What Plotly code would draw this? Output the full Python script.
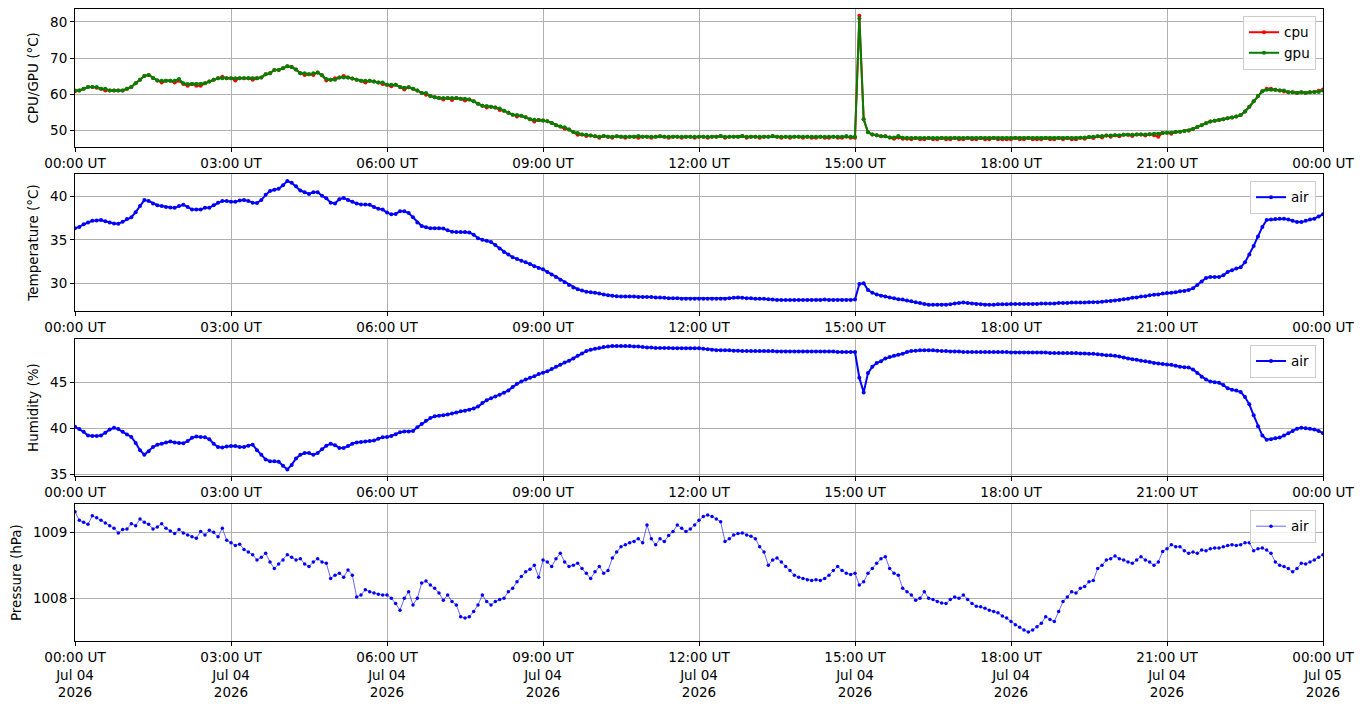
import pandas as pd
import plotly.graph_objects as go

# 5-minute samples, 2026-07-04 00:00 UT to 2026-07-05 00:00 UT (one row per hour)
times = pd.date_range("2026-07-04 00:00", periods=289, freq="5min")

cpu = [
    60.8, 61.0, 61.5, 62.0, 62.0, 61.8, 61.5, 61.0, 61.0, 61.0, 61.0, 61.0,
    61.5, 62.0, 63.0, 64.0, 65.0, 65.3, 64.5, 63.8, 63.2, 63.7, 63.7, 63.2,
    63.7, 62.8, 62.3, 62.8, 62.3, 62.3, 63.0, 63.5, 64.0, 64.4, 64.8, 64.4,
    64.4, 63.8, 64.4, 64.4, 64.4, 64.0, 64.4, 64.6, 65.5, 65.8, 66.7, 66.7,
    67.2, 67.7, 67.5, 66.8, 65.8, 65.3, 65.5, 65.3, 66.0, 65.2, 63.8, 64.0,
    64.4, 64.6, 65.0, 64.6, 64.3, 64.0, 63.7, 63.2, 63.7, 63.5, 63.2, 62.8,
    62.6, 62.2, 62.6, 62.0, 61.3, 61.9, 61.5, 61.0, 60.3, 59.8, 59.5, 59.1,
    58.9, 58.5, 58.9, 58.4, 58.9, 58.7, 58.2, 58.5, 58.0, 57.3, 56.8, 56.3,
    56.5, 56.3, 55.6, 55.4, 54.8, 54.3, 53.8, 54.0, 53.6, 53.0, 52.4, 52.8,
    52.7, 52.5, 52.0, 51.4, 51.0, 50.4, 50.2, 49.5, 48.7, 48.8, 48.4, 48.5,
    48.3, 47.9, 48.4, 48.2, 47.9, 48.3, 48.2, 47.9, 48.2, 48.2, 47.9, 48.2,
    48.2, 47.9, 48.2, 48.3, 48.2, 47.9, 48.2, 48.2, 47.9, 48.2, 48.2, 47.9,
    48.2, 48.2, 47.9, 48.2, 48.2, 48.4, 47.9, 48.2, 48.2, 48.2, 48.4, 47.9,
    48.2, 48.2, 47.9, 48.2, 48.2, 48.4, 48.2, 47.9, 48.2, 47.9, 48.2, 48.2,
    47.9, 48.2, 47.9, 47.9, 48.2, 47.9, 47.9, 48.2, 47.9, 47.9, 48.2, 47.9,
    47.9, 81.7, 53.0, 49.4, 48.8, 48.6, 48.3, 48.3, 48.0, 47.6, 48.0, 47.6,
    47.6, 47.5, 47.8, 47.5, 47.5, 47.8, 47.5, 47.5, 47.8, 47.5, 47.5, 47.8,
    47.5, 47.5, 47.8, 47.5, 47.5, 47.8, 47.5, 47.5, 47.8, 47.5, 47.5, 47.5,
    47.5, 47.8, 47.5, 47.5, 47.8, 47.5, 47.5, 47.5, 47.8, 47.5, 47.5, 47.8,
    47.5, 47.8, 47.5, 47.5, 47.9, 47.6, 48.1, 47.8, 48.3, 48.0, 48.5, 48.2,
    48.6, 48.3, 48.7, 48.7, 48.4, 48.8, 48.8, 48.5, 48.9, 48.6, 48.2, 49.2,
    49.3, 49.0, 49.5, 49.6, 49.8, 49.9, 50.3, 50.9, 51.4, 51.9, 52.4, 52.6,
    52.8, 53.0, 53.3, 53.5, 53.8, 54.2, 55.2, 56.5, 58.0, 59.5, 60.8, 61.5,
    61.5, 61.2, 61.0, 60.7, 60.5, 60.5, 60.3, 60.5, 60.3, 60.5, 60.6, 60.9,
    61.3,
]

gpu = [
    61.0, 61.0, 61.5, 62.0, 62.0, 62.0, 61.5, 61.5, 61.0, 61.0, 61.0, 61.0,
    61.5, 62.0, 63.0, 64.0, 65.0, 65.3, 64.5, 63.8, 63.7, 63.7, 63.7, 63.7,
    64.2, 63.0, 62.8, 62.8, 62.8, 62.8, 63.0, 63.5, 64.0, 64.4, 64.4, 64.4,
    64.4, 64.4, 64.4, 64.4, 64.4, 64.4, 64.4, 64.6, 65.5, 65.8, 66.7, 66.7,
    67.2, 67.7, 67.5, 66.8, 65.8, 65.8, 65.5, 65.8, 66.0, 65.2, 64.2, 64.0,
    64.0, 64.6, 64.6, 64.6, 64.3, 64.0, 63.7, 63.7, 63.7, 63.5, 63.2, 63.2,
    62.6, 62.6, 62.6, 62.0, 61.8, 61.9, 61.5, 61.0, 60.3, 60.3, 59.5, 59.1,
    58.9, 58.9, 58.9, 58.9, 58.9, 58.7, 58.7, 58.5, 58.0, 57.3, 56.8, 56.7,
    56.5, 56.3, 56.0, 55.4, 54.8, 54.3, 54.2, 54.0, 53.6, 53.0, 52.9, 52.8,
    52.7, 52.5, 52.0, 51.4, 51.0, 50.8, 50.2, 49.5, 49.2, 48.8, 48.7, 48.5,
    48.3, 48.2, 48.4, 48.2, 48.2, 48.3, 48.2, 48.2, 48.2, 48.2, 48.4, 48.2,
    48.2, 48.2, 48.2, 48.3, 48.2, 48.2, 48.2, 48.2, 48.2, 48.2, 48.2, 48.2,
    48.2, 48.2, 48.2, 48.2, 48.2, 48.4, 48.2, 48.2, 48.2, 48.2, 48.4, 48.2,
    48.2, 48.2, 48.2, 48.2, 48.2, 48.4, 48.2, 48.2, 48.2, 48.2, 48.2, 48.2,
    48.2, 48.2, 48.2, 48.2, 48.2, 48.2, 48.2, 48.2, 48.2, 48.2, 48.4, 48.2,
    48.2, 81.0, 53.0, 49.4, 48.8, 48.6, 48.3, 48.3, 48.0, 48.0, 48.4, 47.9,
    47.9, 47.8, 47.8, 47.8, 47.8, 47.8, 47.8, 47.8, 47.8, 47.8, 47.8, 47.8,
    47.8, 47.8, 47.8, 47.8, 47.8, 47.8, 47.8, 47.8, 47.8, 47.8, 47.8, 47.8,
    47.8, 47.8, 47.8, 47.8, 47.8, 47.8, 47.8, 47.8, 47.8, 47.8, 47.8, 47.8,
    47.8, 47.8, 47.8, 47.8, 47.9, 48.0, 48.1, 48.2, 48.3, 48.4, 48.5, 48.5,
    48.6, 48.6, 48.7, 48.7, 48.7, 48.8, 48.8, 48.8, 48.9, 49.0, 49.0, 49.2,
    49.3, 49.3, 49.5, 49.6, 49.8, 49.9, 50.3, 50.9, 51.4, 51.9, 52.4, 52.6,
    52.8, 53.0, 53.3, 53.5, 53.8, 54.2, 55.2, 56.5, 58.0, 59.5, 60.8, 61.2,
    61.2, 61.2, 61.0, 61.0, 60.5, 60.5, 60.3, 60.5, 60.3, 60.5, 60.6, 60.6,
    61.0,
]

air_temperature = [
    36.35, 36.5, 36.8, 37.0, 37.2, 37.25, 37.3, 37.15, 37.0, 36.9, 36.85, 37.1,
    37.4, 37.6, 38.2, 38.9, 39.6, 39.5, 39.2, 39.0, 38.9, 38.8, 38.75, 38.7,
    38.9, 39.05, 38.8, 38.5, 38.5, 38.5, 38.7, 38.7, 39.0, 39.3, 39.5, 39.5,
    39.4, 39.4, 39.55, 39.6, 39.5, 39.3, 39.25, 39.6, 40.2, 40.65, 40.8, 40.9,
    41.3, 41.8, 41.6, 41.2, 40.7, 40.5, 40.3, 40.5, 40.5, 40.1, 39.8, 39.3,
    39.2, 39.7, 39.85, 39.6, 39.4, 39.2, 39.1, 39.1, 39.05, 38.8, 38.6, 38.5,
    38.15, 37.95, 38.0, 38.3, 38.3, 38.1, 37.6, 37.0, 36.6, 36.45, 36.35, 36.35,
    36.35, 36.3, 36.1, 35.95, 35.9, 35.9, 35.9, 35.85, 35.6, 35.2, 35.0, 34.9,
    34.75, 34.4, 34.0, 33.6, 33.3, 33.0, 32.8, 32.6, 32.4, 32.2, 31.95, 31.75,
    31.6, 31.3, 31.0, 30.7, 30.4, 30.1, 29.8, 29.5, 29.3, 29.15, 29.0, 28.95,
    28.9, 28.8, 28.7, 28.6, 28.55, 28.5, 28.45, 28.45, 28.45, 28.45, 28.4, 28.4,
    28.4, 28.4, 28.35, 28.35, 28.3, 28.25, 28.25, 28.25, 28.2, 28.2, 28.2, 28.2,
    28.2, 28.2, 28.2, 28.2, 28.2, 28.2, 28.2, 28.25, 28.3, 28.35, 28.3, 28.25,
    28.25, 28.2, 28.2, 28.2, 28.15, 28.1, 28.05, 28.05, 28.05, 28.05, 28.05, 28.05,
    28.05, 28.05, 28.05, 28.05, 28.05, 28.1, 28.05, 28.05, 28.05, 28.05, 28.05, 28.05,
    28.1, 29.9, 30.0, 29.2, 28.9, 28.7, 28.55, 28.45, 28.35, 28.25, 28.15, 28.1,
    28.0, 27.9, 27.8, 27.7, 27.6, 27.5, 27.5, 27.5, 27.5, 27.5, 27.55, 27.65,
    27.7, 27.75, 27.7, 27.65, 27.6, 27.55, 27.5, 27.5, 27.5, 27.55, 27.55, 27.55,
    27.6, 27.6, 27.6, 27.6, 27.6, 27.6, 27.6, 27.65, 27.65, 27.65, 27.65, 27.7,
    27.7, 27.7, 27.75, 27.75, 27.75, 27.75, 27.8, 27.8, 27.8, 27.85, 27.9, 27.95,
    28.0, 28.05, 28.15, 28.2, 28.3, 28.35, 28.45, 28.5, 28.6, 28.65, 28.7, 28.8,
    28.85, 28.9, 28.95, 29.05, 29.1, 29.2, 29.4, 29.8, 30.2, 30.6, 30.7, 30.7,
    30.7, 30.9, 31.3, 31.5, 31.7, 31.85, 32.4, 33.3, 34.3, 35.4, 36.5, 37.3,
    37.35, 37.4, 37.45, 37.45, 37.35, 37.2, 37.05, 37.05, 37.2, 37.35, 37.45, 37.7,
    37.95,
]

air_humidity = [
    40.15, 39.9, 39.6, 39.2, 39.15, 39.15, 39.2, 39.5, 39.85, 40.05, 39.9, 39.6,
    39.3, 39.05, 38.4, 37.6, 37.1, 37.5, 37.95, 38.2, 38.3, 38.45, 38.55, 38.45,
    38.4, 38.35, 38.6, 38.95, 39.1, 39.05, 39.0, 38.8, 38.3, 37.95, 37.9, 38.0,
    38.05, 38.05, 37.95, 37.95, 38.1, 38.2, 37.6, 37.1, 36.6, 36.4, 36.4, 36.35,
    35.9, 35.5, 36.0, 36.7, 37.1, 37.3, 37.3, 37.1, 37.3, 37.7, 38.1, 38.3,
    38.15, 37.85, 37.85, 38.05, 38.3, 38.45, 38.5, 38.55, 38.6, 38.65, 38.85, 39.0,
    39.05, 39.15, 39.35, 39.55, 39.65, 39.65, 39.7, 40.1, 40.45, 40.8, 41.1, 41.3,
    41.35, 41.4, 41.5, 41.6, 41.7, 41.85, 41.9, 42.0, 42.15, 42.35, 42.75, 43.05,
    43.25, 43.45, 43.65, 43.85, 44.1, 44.5, 44.85, 45.1, 45.3, 45.5, 45.65, 45.9,
    46.05, 46.2, 46.45, 46.7, 46.9, 47.15, 47.35, 47.6, 47.9, 48.15, 48.4, 48.55,
    48.65, 48.75, 48.85, 48.9, 48.95, 48.95, 48.95, 48.95, 48.95, 48.9, 48.9, 48.85,
    48.8, 48.8, 48.75, 48.75, 48.75, 48.75, 48.7, 48.7, 48.7, 48.7, 48.7, 48.7,
    48.7, 48.65, 48.6, 48.55, 48.5, 48.5, 48.5, 48.5, 48.45, 48.45, 48.4, 48.4,
    48.4, 48.4, 48.4, 48.4, 48.4, 48.4, 48.35, 48.35, 48.35, 48.35, 48.35, 48.35,
    48.35, 48.35, 48.35, 48.35, 48.35, 48.35, 48.35, 48.35, 48.3, 48.3, 48.3, 48.3,
    48.3, 45.5, 43.9, 46.0, 46.7, 47.1, 47.3, 47.6, 47.75, 47.9, 48.0, 48.1,
    48.3, 48.4, 48.45, 48.5, 48.5, 48.5, 48.5, 48.45, 48.4, 48.4, 48.35, 48.35,
    48.35, 48.3, 48.3, 48.3, 48.3, 48.3, 48.3, 48.3, 48.3, 48.3, 48.3, 48.3,
    48.25, 48.25, 48.25, 48.25, 48.25, 48.25, 48.25, 48.25, 48.25, 48.2, 48.2, 48.2,
    48.2, 48.2, 48.2, 48.2, 48.15, 48.15, 48.1, 48.1, 48.05, 48.0, 47.95, 47.95,
    47.9, 47.8, 47.7, 47.6, 47.5, 47.45, 47.35, 47.3, 47.2, 47.1, 47.05, 47.0,
    46.95, 46.9, 46.8, 46.7, 46.65, 46.6, 46.4, 46.0, 45.6, 45.3, 45.1, 45.0,
    44.95, 44.7, 44.35, 44.2, 44.1, 43.95, 43.4, 42.6, 41.4, 40.2, 39.2, 38.75,
    38.8, 38.9, 38.98, 39.2, 39.45, 39.7, 39.95, 40.05, 40.0, 39.95, 39.85, 39.7,
    39.45,
]

air_pressure = [
    1009.31, 1009.18, 1009.15, 1009.12, 1009.25, 1009.22, 1009.18, 1009.14, 1009.10, 1009.06, 1008.99, 1009.04,
    1009.05, 1009.13, 1009.10, 1009.20, 1009.15, 1009.12, 1009.05, 1009.08, 1009.13, 1009.06, 1009.02, 1008.98,
    1009.04, 1008.99, 1008.96, 1008.93, 1008.91, 1009.01, 1008.96, 1009.03, 1009.00, 1008.93, 1009.06, 1008.88,
    1008.84, 1008.80, 1008.82, 1008.74, 1008.70, 1008.66, 1008.58, 1008.62, 1008.68, 1008.55, 1008.45, 1008.52,
    1008.58, 1008.66, 1008.62, 1008.58, 1008.60, 1008.52, 1008.48, 1008.55, 1008.60, 1008.55, 1008.53, 1008.30,
    1008.35, 1008.38, 1008.32, 1008.43, 1008.35, 1008.02, 1008.05, 1008.13, 1008.10, 1008.08, 1008.06, 1008.05,
    1008.05, 1008.00, 1007.92, 1007.82, 1008.00, 1008.10, 1007.90, 1008.00, 1008.23, 1008.26, 1008.20, 1008.15,
    1008.08, 1007.97, 1008.05, 1007.95, 1007.90, 1007.72, 1007.70, 1007.72, 1007.80, 1007.90, 1008.05, 1007.95,
    1007.90, 1007.95, 1007.98, 1008.00, 1008.10, 1008.15, 1008.25, 1008.33, 1008.40, 1008.44, 1008.50, 1008.32,
    1008.58, 1008.55, 1008.48, 1008.60, 1008.68, 1008.55, 1008.48, 1008.50, 1008.53, 1008.45, 1008.38, 1008.30,
    1008.40, 1008.48, 1008.38, 1008.42, 1008.61, 1008.70, 1008.78, 1008.81, 1008.84, 1008.86, 1008.90, 1008.84,
    1009.11, 1008.90, 1008.81, 1008.90, 1008.86, 1008.95, 1009.01, 1009.11, 1009.06, 1009.01, 1009.05, 1009.11,
    1009.18, 1009.24, 1009.26, 1009.24, 1009.20, 1009.16, 1008.86, 1008.90, 1008.96, 1008.98, 1008.99, 1008.96,
    1008.94, 1008.90, 1008.78, 1008.70, 1008.50, 1008.58, 1008.61, 1008.55, 1008.48, 1008.42, 1008.35, 1008.32,
    1008.30, 1008.28, 1008.27, 1008.28, 1008.27, 1008.30, 1008.35, 1008.42, 1008.48, 1008.42, 1008.38, 1008.36,
    1008.38, 1008.20, 1008.25, 1008.38, 1008.45, 1008.53, 1008.60, 1008.63, 1008.45, 1008.38, 1008.35, 1008.15,
    1008.10, 1008.05, 1007.97, 1008.00, 1008.10, 1008.00, 1007.98, 1007.95, 1007.93, 1007.92, 1007.98, 1008.02,
    1008.00, 1008.05, 1007.98, 1007.92, 1007.88, 1007.87, 1007.85, 1007.82, 1007.80, 1007.78, 1007.73, 1007.70,
    1007.65, 1007.60, 1007.56, 1007.52, 1007.49, 1007.52, 1007.57, 1007.62, 1007.72, 1007.68, 1007.65, 1007.80,
    1007.95, 1008.02, 1008.10, 1008.08, 1008.15, 1008.18, 1008.25, 1008.27, 1008.45, 1008.50, 1008.58, 1008.60,
    1008.64, 1008.60, 1008.58, 1008.55, 1008.53, 1008.58, 1008.63, 1008.58, 1008.55, 1008.50, 1008.55, 1008.71,
    1008.75, 1008.81, 1008.78, 1008.78, 1008.72, 1008.68, 1008.70, 1008.68, 1008.73, 1008.72, 1008.75, 1008.76,
    1008.76, 1008.78, 1008.80, 1008.81, 1008.80, 1008.81, 1008.84, 1008.84, 1008.72, 1008.75, 1008.76, 1008.73,
    1008.68, 1008.55, 1008.50, 1008.48, 1008.45, 1008.40, 1008.45, 1008.53, 1008.52, 1008.55, 1008.58, 1008.62,
    1008.66,
]

for name, s in [("cpu", cpu), ("gpu", gpu), ("temp", air_temperature),
                ("hum", air_humidity), ("pres", air_pressure)]:
    assert len(s) == len(times), (name, len(s))

tick_times = pd.date_range("2026-07-04 00:00", periods=9, freq="3h")
tick_labels = ["00:00 UT", "03:00 UT", "06:00 UT", "09:00 UT", "12:00 UT",
               "15:00 UT", "18:00 UT", "21:00 UT", "00:00 UT"]
tick_labels_dated = [lab + "<br>Jul 04<br>2026" for lab in tick_labels[:-1]] + ["00:00 UT<br>Jul 05<br>2026"]

FONT = "DejaVu Sans"
GRID = "#b0b0b0"

fig = go.Figure()


def add_series(y, name, color, axis, legend, marker_size=4, line_width=2):
    fig.add_trace(go.Scatter(
        x=times, y=y, name=name, mode="lines+markers",
        line=dict(color=color, width=line_width),
        marker=dict(color=color, size=marker_size),
        xaxis="x" + axis, yaxis="y" + axis, legend=legend,
    ))


add_series(cpu, "cpu", "red", "", "legend")
add_series(gpu, "gpu", "green", "", "legend")
add_series(air_temperature, "air", "blue", "2", "legend2")
add_series(air_humidity, "air", "blue", "3", "legend3")
add_series(air_pressure, "air", "blue", "4", "legend4", marker_size=3.5, line_width=0.6)

# the page adds an 8px body margin, so the margins are shifted to compensate
domains = [[0.782, 1.0], [0.5224, 0.7388], [0.2612, 0.4776], [0.0, 0.2164]]
y_ranges = [[45.4, 83.6], [26.8, 42.6], [34.8, 49.7], [1007.353, 1009.424]]
y_ticks = [[50, 60, 70, 80], [30, 35, 40], [35, 40, 45], [1008, 1009]]
y_titles = ["CPU/GPU (°C)", "Temperature (°C)", "Humidity (%)", "Pressure (hPa)"]
legend_tops = [0.989, 0.728, 0.4686, 0.2074]

axis_common = dict(
    showline=True, mirror=True, linecolor="black", linewidth=1,
    ticks="outside", ticklen=4, tickcolor="black",
    showgrid=True, gridcolor=GRID, gridwidth=1, zeroline=False,
    tickfont=dict(family=FONT, size=13.5, color="black"),
    automargin=False,
)

layout = {}
for i in range(4):
    suffix = "" if i == 0 else str(i + 1)
    layout["xaxis" + suffix] = dict(
        axis_common,
        type="date", domain=[0, 1], anchor="y" + suffix,
        range=[times[0], times[-1]],
        tickvals=tick_times,
        ticktext=tick_labels_dated if i == 3 else tick_labels,
    )
    layout["yaxis" + suffix] = dict(
        axis_common,
        domain=domains[i], anchor="x" + suffix,
        range=y_ranges[i], tickvals=y_ticks[i],
        title=dict(text=y_titles[i], font=dict(family=FONT, size=13.5, color="black"), standoff=8),
    )
    layout["legend" if i == 0 else "legend" + suffix] = dict(
        x=0.9944, xanchor="right", y=legend_tops[i], yanchor="top",
        bgcolor="rgba(255,255,255,0.8)", bordercolor="#cccccc", borderwidth=1,
        font=dict(family=FONT, size=13.5, color="black"),
    )

fig.update_layout(
    **layout,
    width=1364, height=707,
    margin=dict(l=67, r=49, t=1, b=74),
    paper_bgcolor="white", plot_bgcolor="white",
    font=dict(family=FONT, size=13.5, color="black"),
    showlegend=True,
)

fig.write_html("out.html")
